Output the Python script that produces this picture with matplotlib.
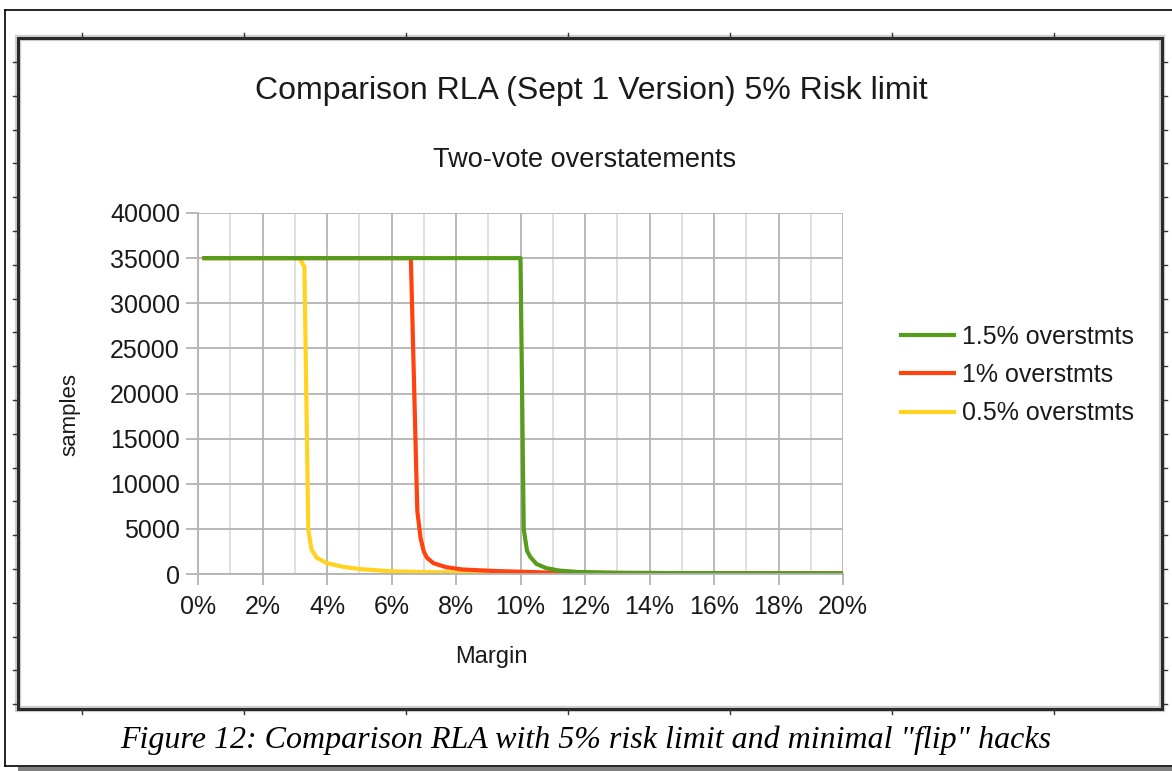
import numpy as np
import matplotlib
matplotlib.use("Agg")
import matplotlib.pyplot as plt
from matplotlib.ticker import MultipleLocator, FuncFormatter

plt.rcParams['font.family'] = ['Liberation Sans', 'DejaVu Sans']

# Datos (margen en %, muestras)
margen_15 = [0.2, 10.0, 10.1, 10.2, 10.3, 10.5, 10.8, 11.2, 11.8, 13.0, 15.0, 20.0]
muestras_15 = [35000, 35000, 5000, 2600, 1900, 1100, 650, 380, 220, 140, 100, 80]

margen_10 = [0.2, 6.6, 6.8, 6.9, 7.0, 7.1, 7.3, 7.7, 8.2, 9.2, 10.8, 13.0, 20.0]
muestras_10 = [35000, 35000, 7000, 4000, 2500, 1800, 1200, 750, 500, 330, 170, 110, 70]

margen_05 = [0.2, 3.15, 3.3, 3.42, 3.52, 3.68, 4.0, 4.5, 5.0, 6.0, 7.0, 8.0, 10.0, 14.0, 20.0]
muestras_05 = [35000, 35000, 34000, 4900, 2700, 1800, 1200, 800, 550, 300, 220, 160, 110, 80, 60]

etiquetas = ["1.5% overstmts", "1% overstmts", "0.5% overstmts"]
colores = ["#579d1c", "#ff420e", "#ffd320"]

W, H = 1172, 771
fig = plt.figure(figsize=(W / 100, H / 100), dpi=100)

# marco de la pagina (coordenadas en pixeles)
deco = fig.add_axes([0, 0, 1, 1])
deco.set_xlim(0, W)
deco.set_ylim(H, 0)
deco.axis('off')
deco.plot([5, W], [10, 10], color='black', lw=1.2)
deco.plot([5, 5], [10, 766], color='black', lw=1.2)
deco.plot([5, W], [766, 766], color='black', lw=1.2)
deco.fill_between([18, W], 767, 771, color='#808080', lw=0)
deco.add_patch(plt.Rectangle((18, 38), 1144, 671, fill=False, ec='#cfcfcf', lw=4.5))
deco.add_patch(plt.Rectangle((18, 38), 1144, 671, fill=False, ec='#2a2a2a', lw=2.2))
for x in np.arange(82, 1160, 162):
    deco.plot([x, x], [33, 38], color='#333333', lw=1)
    deco.plot([x, x], [709, 714], color='#333333', lw=1)
for y in np.arange(62, 708, 33.8):
    deco.plot([13, 18], [y, y], color='#333333', lw=1)
    deco.plot([1162, 1167], [y, y], color='#333333', lw=1)

fig.text(591 / W, 1 - 91 / H, "Comparison RLA (Sept 1 Version) 5% Risk limit",
         ha='center', va='center', fontsize=23, color='#1a1a1a')
fig.text(585 / W, 1 - 160 / H, "Two-vote overstatements",
         ha='center', va='center', fontsize=19.5, color='#1a1a1a')
fig.text(586 / W, 1 - 740 / H,
         'Figure 12: Comparison RLA with 5% risk limit and minimal "flip" hacks',
         ha='center', va='center', fontsize=23, style='italic',
         family=['Liberation Serif', 'DejaVu Serif'], color='black')

ax = fig.add_axes([198 / W, 1 - 574 / H, (843 - 198) / W, (574 - 213) / H])
ax.plot(margen_05, muestras_05, color=colores[2], lw=3, label=etiquetas[2], solid_joinstyle='round')
ax.plot(margen_10, muestras_10, color=colores[1], lw=3, label=etiquetas[1], solid_joinstyle='round')
ax.plot(margen_15, muestras_15, color=colores[0], lw=3, label=etiquetas[0], solid_joinstyle='round')

ax.set_xlim(0, 20)
ax.set_ylim(0, 40000)
ax.xaxis.set_major_locator(MultipleLocator(2))
ax.xaxis.set_minor_locator(MultipleLocator(1))
ax.yaxis.set_major_locator(MultipleLocator(5000))
ax.xaxis.set_major_formatter(FuncFormatter(lambda v, p: f"{v:.0f}%"))
ax.grid(which='major', color='#b3b3b3', lw=1.3)
ax.grid(which='minor', axis='x', color='#dddddd', lw=1.3)
ax.set_axisbelow(True)
for s in ['top', 'right']:
    ax.spines[s].set_visible(False)
for s in ['left', 'bottom']:
    ax.spines[s].set_color('#b3b3b3')
    ax.spines[s].set_linewidth(1.3)
ax.tick_params(which='major', color='#b3b3b3', width=1.3, labelsize=18, labelcolor='#1a1a1a')
ax.tick_params(axis='x', which='major', length=8, pad=7)
ax.tick_params(axis='y', which='major', length=9, pad=4)
ax.tick_params(which='minor', length=0)
ax.set_xlabel("Margin", fontsize=17, color='#1a1a1a')
ax.set_ylabel("samples", fontsize=16, color='#1a1a1a')
ax.xaxis.set_label_coords((491 - 198) / 645, -(657 - 574) / 361, transform=ax.transAxes)
ax.xaxis.label.set_va('center')
ax.yaxis.set_label_coords(-(198 - 70) / 645, (574 - 415) / 361, transform=ax.transAxes)
ax.yaxis.label.set_va('center')

h, l = ax.get_legend_handles_labels()
fig.legend(h[::-1], l[::-1], loc='center left', bbox_to_anchor=(878 / W, 1 - 375 / H),
           frameon=False, fontsize=18, handlelength=2.15, handletextpad=0.3,
           labelspacing=0.57, labelcolor='#1a1a1a')

fig.savefig("out.png", dpi=100)
